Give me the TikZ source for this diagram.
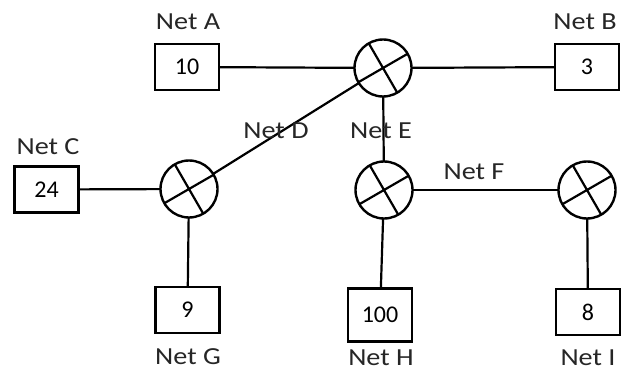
\documentclass[tikz,border=0pt]{standalone}
\usepackage{fontspec}
\setmainfont{Carlito}
\newfontfamily\lblfont[FakeStretch=1.15]{Carlito}
\begin{document}
\begin{tikzpicture}[x=1pt,y=-1pt,
  netbox/.style={draw, line width=2.6pt, minimum width=64pt, minimum height=46pt, inner sep=0pt, outer sep=0pt, font=\fontsize{24}{26}\selectfont},
  router/.style={draw, circle, line width=2.4pt, minimum size=57pt, inner sep=0pt, outer sep=0pt},
  lbl/.style={inner sep=0pt, font=\lblfont\fontsize{24.5}{26}\selectfont, text=black!85},
  link/.style={line width=2.2pt}]
\useasboundingbox (0,0) rectangle (623,374);
% routers
\node[router] (r1) at (383,68) {};
\node[router] (r2) at (189,189) {};
\node[router] (r3) at (384,190) {};
\node[router] (r4) at (587,190) {};
\foreach \n in {r1,r2,r3,r4}
  \draw[line width=2.2pt] (\n.30) -- (\n.210) (\n.120) -- (\n.300);
% boxes
\node[netbox] (a) at (187,67) {10};
\node[netbox] (b) at (587,67) {3};
\node[netbox] (c) at (46.5,189.5) {24};
\node[netbox] (g) at (187.5,310) {9};
\node[netbox, minimum height=53pt] (h) at (380,315) {100};
\node[netbox] (i) at (588,312) {8};
% labels
\node[lbl] (la) at (188,22) {Net A};
\node[lbl] (lb) at (585,22) {Net B};
\node[lbl] (lc) at (48,147) {Net C};
\node[lbl] (lg) at (188,357) {Net G};
\node[lbl] (lh) at (381,358) {Net H};
\node[lbl] (li) at (588,358) {Net I};
% links
\draw[link] (a) -- (r1);
\draw[link] (r1) -- (b);
\draw[link] (r2) -- (r1);
\draw[link] (r1) -- (r3);
\draw[link] (c) -- (r2);
\draw[link] (r2) -- (g);
\draw[link] (r3) -- (r4);
\draw[link] (r3) -- (h);
\draw[link] (r4) -- (i);
% link labels
\node[lbl] (ld) at (276,131) {Net D};
\node[lbl] (le) at (381,131) {Net E};
\node[lbl] (lf) at (474,172) {Net F};
\end{tikzpicture}
\end{document}
